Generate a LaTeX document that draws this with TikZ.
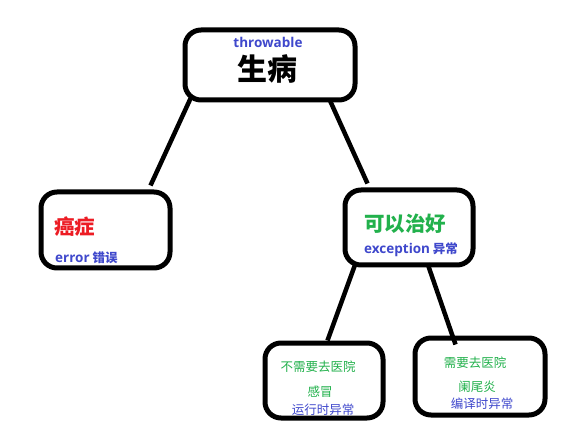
\documentclass[tikz,border=0pt]{standalone}
\usepackage{fontspec}
\setmainfont{Noto Sans CJK SC}
\newfontfamily\latinf{Open Sans}[BoldFont={Open Sans Bold}]
\usetikzlibrary{calc}
\definecolor{pblue}{RGB}{63,72,204}
\definecolor{pgreen}{RGB}{34,177,76}
\definecolor{pred}{RGB}{237,28,36}
\newcommand{\lat}[1]{{\latinf\bfseries\fontsize{13.5}{15}\selectfont #1}}
\tikzset{
  box/.style={draw=black, line width=5pt, rounded corners=16pt, fill=white, inner sep=0pt},
  conn/.style={draw=black, line width=4.5pt},
  txt/.style={inner sep=0pt},
  big/.style={txt, font=\fontsize{30}{32}\selectfont\bfseries},
  mid/.style={txt, font=\fontsize{20.5}{22}\selectfont\bfseries},
  sm/.style={txt, font=\fontsize{12.5}{14}\selectfont\bfseries},
  tiny/.style={txt, font=\fontsize{12.5}{14}\selectfont}
}
\begin{document}
\begin{tikzpicture}[x=1pt,y=-1pt]
\useasboundingbox[fill=white] (0,0) rectangle (583,435);
% boxes
\node[box, minimum width=170pt, minimum height=70pt] (top) at (270,65) {};
\node[box, minimum width=129pt, minimum height=76pt] (err) at (105.5,230) {};
\node[box, minimum width=128pt, minimum height=75pt] (exc) at (409,227.5) {};
\node[box, minimum width=118pt, minimum height=75pt] (rt) at (324,380.5) {};
\node[box, minimum width=130pt, minimum height=77pt] (ct) at (480,376.5) {};
% connectors
\draw[conn] ($(top.south west)+(8,-4)$) -- ($(err.north west)+(112,-4)$);
\draw[conn] ($(top.south west)+(147,-3)$) -- ($(exc.north west)+(25,-4)$);
\draw[conn] ($(exc.south west)+(13,-4)$) -- ($(rt.north west)+(65,0)$);
\draw[conn] ($(exc.south west)+(85,-4)$) -- coordinate (gapend) ($(ct.north west)+(43,9)$);
% texts
\node[sm, text=pblue] (t1) at (268,42) {\lat{throwable}};
\node[big] (t2) at (267,69) {生病};
\node[mid, text=pred, anchor=west] (t3) at (54,227) {癌症};
\node[sm, text=pblue, anchor=west] (t4) at (55,258) {\lat{error} 错误};
\node[mid, text=pgreen, anchor=west] (t5) at (364,224) {可以治好};
\node[sm, text=pblue, anchor=west] (t6) at (364,250) {\lat{exception} 异常};
\node[tiny, text=pgreen] (t7) at (318,367) {不需要去医院};
\node[tiny, text=pgreen] (t8) at (320,392) {感冒};
\node[tiny, text=pblue] (t9) at (323,410) {运行时异常};
\node[tiny, text=pgreen] (t10) at (475,363) {需要去医院};
\node[tiny, text=pgreen] (t11) at (477,387) {阑尾炎};
\node[tiny, text=pblue] (t12) at (482,404) {编译时异常};
\end{tikzpicture}
\end{document}
